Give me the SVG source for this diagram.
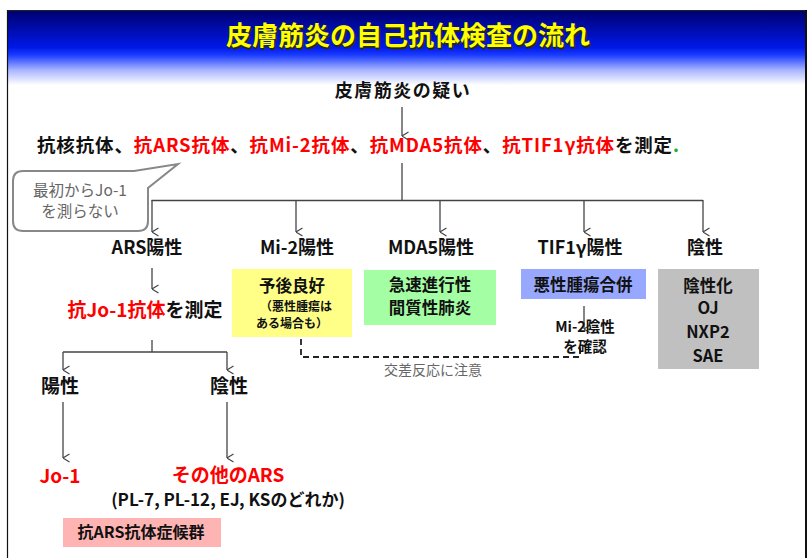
<svg xmlns="http://www.w3.org/2000/svg" width="812" height="558" viewBox="0 0 812 558">
<defs>
<linearGradient id="tg" x1="0" y1="0" x2="0" y2="1">
<stop offset="0" stop-color="#00006e"/>
<stop offset="0.5" stop-color="#0018e8"/>
<stop offset="0.6" stop-color="#1a3cff"/>
<stop offset="0.8" stop-color="#a8b4ff"/>
<stop offset="1" stop-color="#ffffff"/>
</linearGradient>
<marker id="ah" viewBox="0 0 10 10" refX="5" refY="9.5" markerWidth="10" markerHeight="10" markerUnits="userSpaceOnUse" orient="auto-start-reverse">
<path d="M1,3 L5,9.5 L9,3" fill="none" stroke="#444" stroke-width="1.1"/>
</marker>
</defs>
<style>
text{font-family:"Noto Sans CJK JP","Noto Sans",sans-serif;}
.b{font-weight:bold;fill:#111;}
.r{fill:#ff0000;}
.k{fill:#111;}
.g{fill:#666;font-weight:normal;}
.c{stroke:#444;stroke-width:1.3;fill:none;}
.m{text-anchor:middle;}
</style>
<rect x="0" y="0" width="812" height="558" fill="#fff"/>
<rect x="8" y="10" width="798" height="75" fill="url(#tg)"/>
<line x1="8" y1="10.5" x2="806" y2="10.5" stroke="#222" stroke-width="1"/>
<line x1="7.5" y1="10" x2="7.5" y2="558" stroke="#111" stroke-width="1.2"/>
<line x1="806" y1="10" x2="806" y2="558" stroke="#111" stroke-width="2"/>
<g id="title">
<text x="409.5" y="46.5" class="m" font-size="26" font-weight="bold" fill="#2a2a00">皮膚筋炎の自己抗体検査の流れ</text>
<text x="408" y="45" class="m" font-size="26" font-weight="bold" fill="#ffff00">皮膚筋炎の自己抗体検査の流れ</text>
</g>
<g id="connectors">
<line class="c" x1="402" y1="107" x2="402" y2="136" marker-end="url(#ah)"/>
<line class="c" x1="402" y1="163" x2="402" y2="200.5"/>
<line class="c" x1="151.5" y1="200.5" x2="703" y2="200.5"/>
<line class="c" x1="152" y1="200" x2="152" y2="232" marker-end="url(#ah)"/>
<line class="c" x1="296" y1="200" x2="296" y2="232" marker-end="url(#ah)"/>
<line class="c" x1="440" y1="200" x2="440" y2="232" marker-end="url(#ah)"/>
<line class="c" x1="584" y1="200" x2="584" y2="232" marker-end="url(#ah)"/>
<line class="c" x1="703" y1="200" x2="703" y2="232" marker-end="url(#ah)"/>
<line class="c" x1="152" y1="268" x2="152" y2="289" marker-end="url(#ah)"/>
<line class="c" x1="152" y1="340" x2="152" y2="352"/>
<line class="c" x1="63" y1="352" x2="227" y2="352"/>
<line class="c" x1="63" y1="352" x2="63" y2="370" marker-end="url(#ah)"/>
<line class="c" x1="227" y1="352" x2="227" y2="370" marker-end="url(#ah)"/>
<line class="c" x1="63" y1="402" x2="63" y2="458" marker-end="url(#ah)"/>
<line class="c" x1="227" y1="402" x2="227" y2="458" marker-end="url(#ah)"/>
<line class="c" x1="584" y1="306" x2="584" y2="329" marker-end="url(#ah)"/>
<path d="M301,339 V357 H580 V348" fill="none" stroke="#222" stroke-width="1.8" stroke-dasharray="6,4"/>
<text x="433" y="375" class="m g" font-size="14">交差反応に注意</text>
</g>
<g id="suspect">
<text x="403" y="97" class="m b" font-size="18" letter-spacing="1.5">皮膚筋炎の疑い</text>
</g>
<g id="measure">
<text x="37" y="152" class="b" font-size="18.5" textLength="642" lengthAdjust="spacing"><tspan class="k">抗核抗体、</tspan><tspan class="r">抗ARS抗体</tspan><tspan class="k">、</tspan><tspan class="r">抗Mi-2抗体</tspan><tspan class="k">、</tspan><tspan class="r">抗MDA5抗体</tspan><tspan class="k">、</tspan><tspan class="r">抗TIF1γ抗体</tspan><tspan class="k">を測定</tspan><tspan fill="#22aa22">.</tspan></text>
</g>
<g id="callout">
<path d="M23,171 H134 L178,164 L148,188 V221 Q148,231 138,231 H23 Q13,231 13,221 V181 Q13,171 23,171 Z" fill="#fff" stroke="#888" stroke-width="2"/>
<text x="80" y="196" class="m g" font-size="15.5">最初からJo-1</text>
<text x="80" y="217" class="m g" font-size="15.5">を測らない</text>
</g>
<g id="ars">
<text x="147" y="254" class="m b" font-size="18">ARS陽性</text>
</g>
<g id="mi2">
<text x="297" y="254" class="m b" font-size="18">Mi-2陽性</text>
<rect x="232" y="269" width="120" height="68" fill="#ffff88"/>
<text x="292" y="292" class="m b" font-size="16.5">予後良好</text>
<text x="296" y="311" class="m b" font-size="12">（悪性腫瘍は</text>
<text x="292" y="328" class="m b" font-size="12">ある場合も）</text>
</g>
<g id="mda5">
<text x="431" y="254" class="m b" font-size="18">MDA5陽性</text>
<rect x="364" y="270" width="132" height="55" fill="#a4ffa4"/>
<text x="430" y="291" class="m b" font-size="16.5">急速進行性</text>
<text x="430" y="314" class="m b" font-size="16.5">間質性肺炎</text>
</g>
<g id="tif1">
<text x="580" y="254" class="m b" font-size="18">TIF1γ陽性</text>
<rect x="521" y="269" width="125" height="30" fill="#99a8ff"/>
<text x="583" y="291" class="m b" font-size="16.5">悪性腫瘍合併</text>
<text x="585" y="332" class="m b" font-size="14.5">Mi-2陰性</text>
<text x="585" y="352" class="m b" font-size="14.5">を確認</text>
</g>
<g id="negative">
<text x="705" y="254" class="m b" font-size="18">陰性</text>
<rect x="658" y="269" width="101" height="100" fill="#c0c0c0"/>
<text x="708" y="292" class="m b" font-size="16.5">陰性化</text>
<text x="708" y="314" class="m b" font-size="16.5">OJ</text>
<text x="708" y="338" class="m b" font-size="16.5">NXP2</text>
<text x="708" y="362" class="m b" font-size="16.5">SAE</text>
</g>
<g id="jo1test">
<text x="145" y="317" class="m b" font-size="19"><tspan class="r">抗Jo-1抗体</tspan><tspan class="k">を測定</tspan></text>
</g>
<g id="pos">
<text x="60" y="393" class="m b" font-size="19">陽性</text>
</g>
<g id="neg2">
<text x="229" y="393" class="m b" font-size="19">陰性</text>
</g>
<g id="jo1">
<text x="60" y="483" class="m b" font-size="19" style="fill:#ff0000">Jo-1</text>
</g>
<g id="other">
<text x="228" y="482" class="m b" font-size="19" style="fill:#ff0000">その他のARS</text>
<text x="228" y="506" class="m b" font-size="17">(PL-7, PL-12, EJ, KSのどれか)</text>
</g>
<g id="syndrome">
<rect x="63" y="518" width="158" height="29" fill="#ffb4b4"/>
<text x="141" y="538" class="m b" font-size="16">抗ARS抗体症候群</text>
</g>
</svg>
